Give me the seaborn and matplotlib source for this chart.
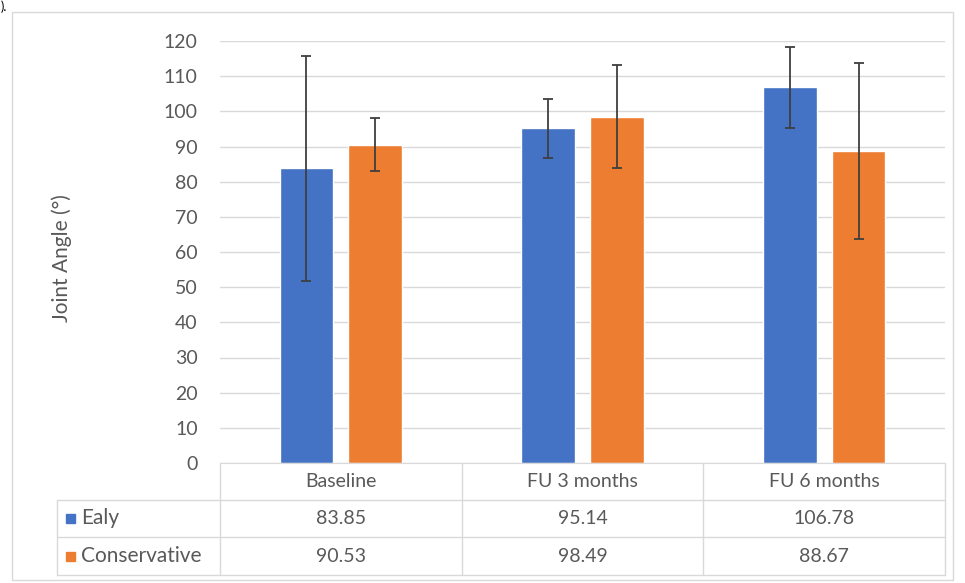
import pandas as pd
import numpy as np
import matplotlib.pyplot as plt
import matplotlib.transforms as mtransforms
from matplotlib.patches import Rectangle
import seaborn as sns

categories = ["Baseline", "FU 3 months", "FU 6 months"]
groups = ["Ealy", "Conservative"]
ealy = [83.85, 95.14, 106.78]
conservative = [90.53, 98.49, 88.67]
ealy_err = [32.0, 8.4, 11.6]
conservative_err = [7.5, 14.6, 25.1]
y_ticks = list(range(0, 121, 10))

colors = ["#4472C4", "#ED7D31"]
grey_text = "#595959"
grid_grey = "#D9D9D9"
fs = 14

df = pd.DataFrame({
    "Time": categories * 2,
    "Group": [groups[0]] * 3 + [groups[1]] * 3,
    "Angle": ealy + conservative,
})

sns.set_style("white")
plt.rcParams['font.family'] = ['Lato', 'DejaVu Sans']

W, H = 965, 583
fig = plt.figure(figsize=(W / 100, H / 100), dpi=100)
ax = fig.add_axes([220 / W, 1 - 463 / H, 725 / W, 422 / H])

sns.barplot(data=df, x="Time", y="Angle", hue="Group", order=categories,
            hue_order=groups, palette=colors, width=0.57, gap=0.22,
            saturation=1, errorbar=None, legend=False, ax=ax)

# error bars on top of each bar
for cont, errs in zip(ax.containers, [ealy_err, conservative_err]):
    for bar, e in zip(cont, errs):
        xc = bar.get_x() + bar.get_width() / 2
        ax.errorbar(xc, bar.get_height(), yerr=e, color="#3F3F3F",
                    elinewidth=1.3, capsize=3.7, capthick=1.3, zorder=5)

ax.set_xlim(-0.5, 2.5)
ax.set_ylim(0, 120)
ax.set_yticks(y_ticks)
ax.set_yticklabels([str(t) for t in y_ticks], fontsize=fs, color=grey_text)
ax.tick_params(axis="y", length=0, pad=16)
ax.set_xticks([])
ax.set_xlabel("")
ax.set_ylabel("")
ax.grid(axis="y", color=grid_grey, linewidth=1)
ax.set_axisbelow(True)
for s in ["top", "right", "left"]:
    ax.spines[s].set_visible(False)
ax.spines["bottom"].set_color(grid_grey)

fig.text(62 / W, 1 - 258 / H, "Joint Angle (°)", rotation=90, ha="center",
         va="center", fontsize=15, color=grey_text)

# data table under the plot
px = 422.0
def ry(p):
    return (463 - p) / px

trans = mtransforms.blended_transform_factory(ax.transData, ax.transAxes)
left_x = -0.5 - (220 - 57) / 241.67
line_kw = dict(color=grid_grey, linewidth=1, clip_on=False, transform=trans)

for yy in [500, 537, 575]:
    ax.plot([left_x, 2.5], [ry(yy), ry(yy)], **line_kw)
for xx in [-0.5, 0.5, 1.5, 2.5]:
    ax.plot([xx, xx], [ry(463), ry(575)], **line_kw)
ax.plot([left_x, left_x], [ry(500), ry(575)], **line_kw)

for i, cat in enumerate(categories):
    ax.text(i, ry(481.5), cat, transform=trans, ha="center", va="center",
            fontsize=fs, color=grey_text)
    ax.text(i, ry(518.5), f"{ealy[i]:.2f}", transform=trans, ha="center",
            va="center", fontsize=fs, color=grey_text)
    ax.text(i, ry(556), f"{conservative[i]:.2f}", transform=trans,
            ha="center", va="center", fontsize=fs, color=grey_text)

for g, c, yy in zip(groups, colors, [518.5, 556]):
    fig.patches.append(Rectangle((66 / W, 1 - (yy + 4.5) / H), 9 / W, 9 / H,
                                 transform=fig.transFigure, color=c))
    fig.text(81 / W, 1 - yy / H, g, ha="left", va="center", fontsize=15,
             color=grey_text)

# outer chart border
fig.patches.append(Rectangle((12 / W, 1 - 580 / H), 941 / W, 568 / H,
                             transform=fig.transFigure, fill=False,
                             edgecolor=grid_grey, linewidth=1))
fig.text(1 / W, 1, ").", ha="left", va="top", fontsize=9, color="black")

fig.savefig("out.png", dpi=100)
